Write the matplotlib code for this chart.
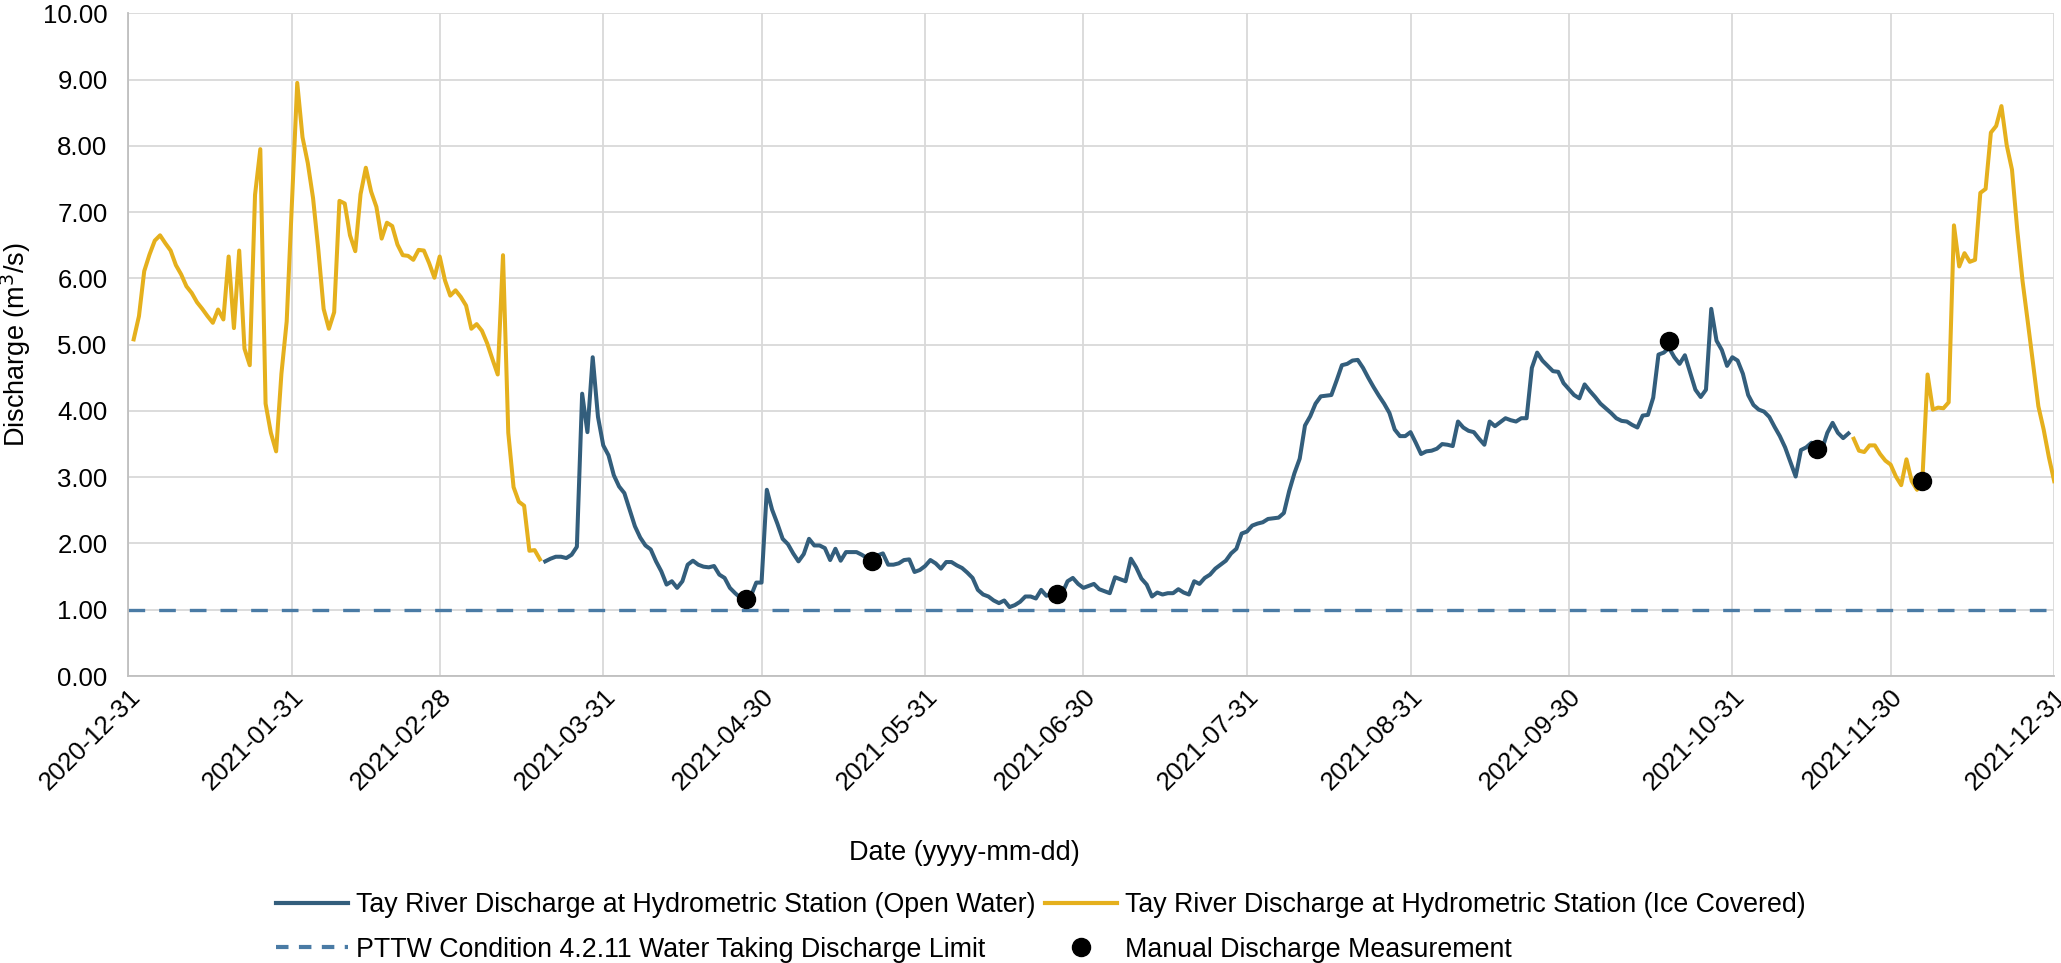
import matplotlib

matplotlib.use("Agg")
import matplotlib.dates as mdates
import matplotlib.pyplot as plt
import pandas as pd
from matplotlib.lines import Line2D

# daily discharge (m3/s)
ICE_WINTER_START = "2021-01-01"
ice_winter = [
    5.08, 5.43, 6.11, 6.36, 6.57, 6.65, 6.53, 6.42, 6.20, 6.06,
    5.88, 5.78, 5.64, 5.54, 5.43, 5.33, 5.53, 5.38, 6.33, 5.25,
    6.42, 4.94, 4.69, 7.26, 7.95, 4.11, 3.67, 3.39, 4.56, 5.35,
    7.15, 8.95, 8.13, 7.74, 7.21, 6.43, 5.54, 5.24, 5.49, 7.17,
    7.13, 6.65, 6.41, 7.27, 7.67, 7.31, 7.08, 6.60, 6.84, 6.79,
    6.51, 6.35, 6.34, 6.28, 6.43, 6.42, 6.23, 6.01, 6.33, 5.97,
    5.74, 5.82, 5.72, 5.59, 5.24, 5.31, 5.21, 5.02, 4.78, 4.55,
    6.35, 3.67, 2.85, 2.63, 2.57, 1.89, 1.90, 1.76,
]

OPEN_START = "2021-03-20"
open_water = [
    1.73, 1.77, 1.80, 1.80, 1.78, 1.83, 1.95, 4.26, 3.68, 4.81,
    3.91, 3.48, 3.33, 3.03, 2.86, 2.76, 2.51, 2.26, 2.09, 1.97,
    1.91, 1.73, 1.58, 1.38, 1.43, 1.33, 1.43, 1.68, 1.74, 1.68,
    1.65, 1.64, 1.66, 1.53, 1.48, 1.33, 1.25, 1.18, 1.14, 1.21,
    1.41, 1.41, 2.81, 2.51, 2.30, 2.07, 1.99, 1.85, 1.73, 1.84,
    2.07, 1.97, 1.97, 1.93, 1.75, 1.92, 1.74, 1.87, 1.87, 1.87,
    1.83, 1.78, 1.74, 1.82, 1.85, 1.68, 1.68, 1.70, 1.75, 1.76,
    1.57, 1.60, 1.66, 1.75, 1.70, 1.62, 1.72, 1.72, 1.67, 1.63,
    1.56, 1.48, 1.30, 1.23, 1.20, 1.14, 1.10, 1.14, 1.04, 1.07,
    1.12, 1.20, 1.20, 1.17, 1.30, 1.21, 1.25, 1.23, 1.25, 1.43,
    1.48, 1.39, 1.33, 1.36, 1.39, 1.31, 1.28, 1.25, 1.49, 1.46,
    1.43, 1.77, 1.64, 1.47, 1.38, 1.20, 1.26, 1.23, 1.25, 1.25,
    1.31, 1.26, 1.23, 1.43, 1.39, 1.48, 1.53, 1.62, 1.68, 1.74,
    1.85, 1.92, 2.15, 2.18, 2.27, 2.30, 2.32, 2.37, 2.38, 2.39,
    2.46, 2.79, 3.06, 3.28, 3.78, 3.92, 4.11, 4.22, 4.23, 4.24,
    4.46, 4.69, 4.71, 4.76, 4.77, 4.65, 4.50, 4.36, 4.23, 4.11,
    3.97, 3.72, 3.62, 3.62, 3.68, 3.52, 3.35, 3.39, 3.40, 3.43,
    3.50, 3.49, 3.47, 3.84, 3.75, 3.70, 3.68, 3.58, 3.49, 3.84,
    3.77, 3.83, 3.89, 3.86, 3.84, 3.89, 3.89, 4.65, 4.88, 4.76,
    4.68, 4.60, 4.59, 4.42, 4.33, 4.24, 4.19, 4.40, 4.30, 4.21,
    4.11, 4.04, 3.97, 3.89, 3.85, 3.84, 3.79, 3.75, 3.93, 3.94,
    4.20, 4.85, 4.88, 4.95, 4.81, 4.71, 4.84, 4.58, 4.32, 4.21,
    4.32, 5.54, 5.06, 4.92, 4.68, 4.81, 4.76, 4.56, 4.24, 4.09,
    4.02, 3.99, 3.91, 3.76, 3.62, 3.45, 3.23, 3.01, 3.41, 3.45,
    3.52, 3.45, 3.42, 3.67, 3.82, 3.67, 3.59, 3.66,
]

ICE_FALL_START = "2021-11-23"
ice_fall = [
    3.58, 3.40, 3.38, 3.48, 3.48, 3.35, 3.25, 3.19, 3.01, 2.88,
    3.27, 2.94, 2.81, 2.94, 4.55, 4.02, 4.05, 4.04, 4.13, 6.80,
    6.18, 6.38, 6.25, 6.28, 7.29, 7.35, 8.20, 8.30, 8.60, 8.01,
    7.64, 6.73, 5.96, 5.34, 4.71, 4.07, 3.72, 3.30, 2.94,
]

manual_dates = ["2021-04-27", "2021-05-21", "2021-06-25",
                "2021-10-19", "2021-11-16", "2021-12-06"]
manual_values = [1.16, 1.74, 1.24, 5.06, 3.42, 2.95]

PTTW_LIMIT = 1.0
tick_dates = ["2020-12-31", "2021-01-31", "2021-02-28", "2021-03-31",
              "2021-04-30", "2021-05-31", "2021-06-30", "2021-07-31",
              "2021-08-31", "2021-09-30", "2021-10-31", "2021-11-30",
              "2021-12-31"]

OPEN_COLOR = "#335E7C"
ICE_COLOR = "#E5B01D"
LIMIT_COLOR = "#4A7BA5"
GRID_COLOR = "#D9D9D9"

plt.rcParams["font.family"] = ["Liberation Sans", "DejaVu Sans"]

fig = plt.figure(figsize=(20.61, 9.63), dpi=100)
ax = fig.add_axes([0.0623, 0.298, 0.9344, 0.6882])


def series(start, values):
    return pd.date_range(start, periods=len(values), freq="D"), values


x, y = series(ICE_WINTER_START, ice_winter)
ax.plot(x, y, color=ICE_COLOR, lw=2.9, solid_joinstyle="round", zorder=3)
x, y = series(OPEN_START, open_water)
ax.plot(x, y, color=OPEN_COLOR, lw=2.9, solid_joinstyle="round", zorder=3)
x, y = series(ICE_FALL_START, ice_fall)
ax.plot(x, y, color=ICE_COLOR, lw=2.9, solid_joinstyle="round", zorder=3)

ax.axhline(PTTW_LIMIT, color=LIMIT_COLOR, lw=2.4, dashes=(5, 4.2), zorder=2)
ax.plot(pd.to_datetime(manual_dates), manual_values, "o", color="black",
        ms=13, zorder=4)

ticks = pd.to_datetime(tick_dates)
ax.set_xlim(ticks[0], ticks[-1])
ax.set_ylim(0, 10)
ax.set_xticks(ticks)
ax.xaxis.set_major_formatter(mdates.DateFormatter("%Y-%m-%d"))
ax.set_yticks(range(0, 11))
ax.yaxis.set_major_formatter(matplotlib.ticker.FormatStrFormatter("%.2f"))

ax.grid(True, color=GRID_COLOR, lw=1.3, zorder=0)
ax.set_axisbelow(True)
for side in ("top", "right"):
    ax.spines[side].set_visible(False)
for side in ("left", "bottom"):
    ax.spines[side].set_color("#BFBFBF")
    ax.spines[side].set_linewidth(1.3)

ax.tick_params(axis="both", length=0, labelsize=18.5)
ax.tick_params(axis="y", pad=15)
ax.tick_params(axis="x", pad=6)
plt.setp(ax.get_xticklabels(), rotation=45, ha="right", va="top",
         rotation_mode="anchor")

ax.set_xlabel("Date (yyyy-mm-dd)", fontsize=19.5)
ax.xaxis.set_label_coords(0.434, -0.247)
ax.set_ylabel("Discharge (m$^3$/s)", fontsize=19.5)
ax.yaxis.set_label_coords(-0.0495, 0.5)

handles = [
    Line2D([], [], color=OPEN_COLOR, lw=3),
    Line2D([], [], color=LIMIT_COLOR, lw=3, dashes=(3, 2.5)),
    Line2D([], [], color=ICE_COLOR, lw=3),
    Line2D([], [], color="black", marker="o", ls="none", ms=13),
]
labels = [
    "Tay River Discharge at Hydrometric Station (Open Water)",
    "PTTW Condition 4.2.11 Water Taking Discharge Limit",
    "Tay River Discharge at Hydrometric Station (Ice Covered)",
    "Manual Discharge Measurement",
]
fig.legend(handles, labels, loc="center", bbox_to_anchor=(0.505, 0.037),
           ncol=2, frameon=False, fontsize=19.3, handlelength=2.7,
           handletextpad=0.3, columnspacing=0.35, labelspacing=0.7)

fig.savefig("out.png", dpi=100)
plt.close(fig)
